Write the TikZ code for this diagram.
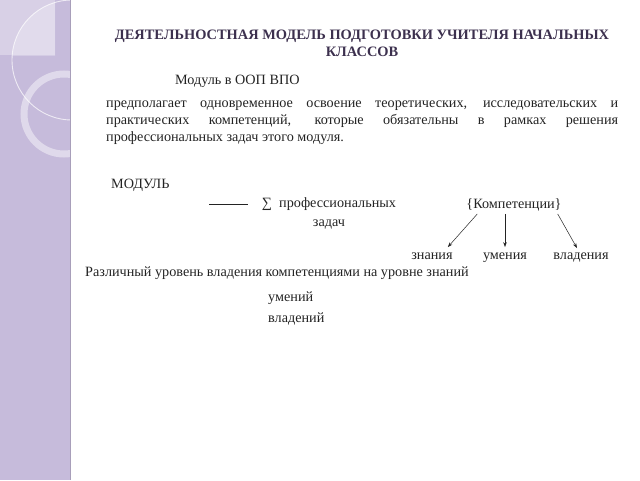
\documentclass[tikz,border=0pt]{standalone}
\usepackage{fontspec}
\setmainfont{Liberation Serif}
\usetikzlibrary{arrows.meta}
\definecolor{band}{RGB}{198,187,219}
\definecolor{bandlight}{RGB}{216,208,230}
\definecolor{titlecol}{RGB}{60,48,78}
\definecolor{textcol}{RGB}{35,35,35}

\begin{document}
\begin{tikzpicture}[x=1pt,y=-1pt,
  txt/.style={font=\fontsize{14.2}{17}\selectfont, text=textcol, inner sep=0pt},
  arr/.style={-{Stealth[length=5pt,width=3.5pt]}, draw=textcol, line width=0.5pt}]
\def\band{(0,0) rectangle (70,480)}
\def\bigring{(72,60) circle (60)}

\useasboundingbox (0,0) rectangle (640,480);

% left band
\fill[band] \band;
\begin{scope}
\clip \band;
\fill[bandlight] (0,0) rectangle (55,55);
\begin{scope}
\clip (0,0) rectangle (55,55);
\fill[white, opacity=0.25] \bigring;
\end{scope}
\draw[white, opacity=0.7, line width=0.9pt] \bigring;
\draw[white, opacity=0.45, line width=7pt] (64,114) circle (40);
\end{scope}
\draw[band!85!black, line width=0.6pt] (70,0) -- (70,480);

% title
\node[txt, font=\fontsize{14.4}{17}\selectfont\bfseries, text=titlecol, align=center, anchor=base]
  (title) at (362,56) {ДЕЯТЕЛЬНОСТНАЯ МОДЕЛЬ ПОДГОТОВКИ УЧИТЕЛЯ НАЧАЛЬНЫХ\\КЛАССОВ};

\node[txt, anchor=base west] (oop) at (175,84) {Модуль в ООП ВПО};
\node[txt, anchor=north west, text width=512pt, align=justify] (para) at (106,101)
  {предполагает одновременное освоение теоретических, исследовательских и\linebreak
   практических компетенций, которые обязательны в рамках решения\linebreak
   профессиональных задач этого модуля.};

% module
\node[txt, anchor=base west] (modul) at (111,188) {МОДУЛЬ};
\node[txt, font=\fontsize{14.2}{19}\selectfont, anchor=north, align=center] (sum) at (329,197)
  {∑\ \ профессиональных\\задач};
\coordinate (lineA) at (209,204);
\coordinate (lineB) at (248,204);
\draw[textcol, line width=0.5pt] (lineA) -- (lineB);

\node[txt, anchor=base] (komp) at (514,208) {\{Компетенции\}};
\node[txt, anchor=base] (znan) at (432,259) {знания};
\node[txt, anchor=base] (umen) at (505,259) {умения};
\node[txt, anchor=base] (vlad) at (581,259) {владения};

\draw[arr] ([xshift=11pt,yshift=-3pt]komp.south west) -- ([xshift=-5pt,yshift=5pt]znan.north east);
\draw[arr] ([yshift=-3pt]komp.south -| umen.north) -- ([yshift=5pt]umen.north);
\draw[arr] ([xshift=-4pt,yshift=-3pt]komp.south east) -- ([xshift=-4pt,yshift=4pt]vlad.north);

% levels
\node[txt, anchor=base west] (level) at (85,276) {Различный уровень владения компетенциями на уровне знаний};
\node[txt, anchor=base west] (lvumen) at (268,301) {умений};
\node[txt, anchor=base west] (lvvlad) at (268,322) {владений};
\end{tikzpicture}
\end{document}
